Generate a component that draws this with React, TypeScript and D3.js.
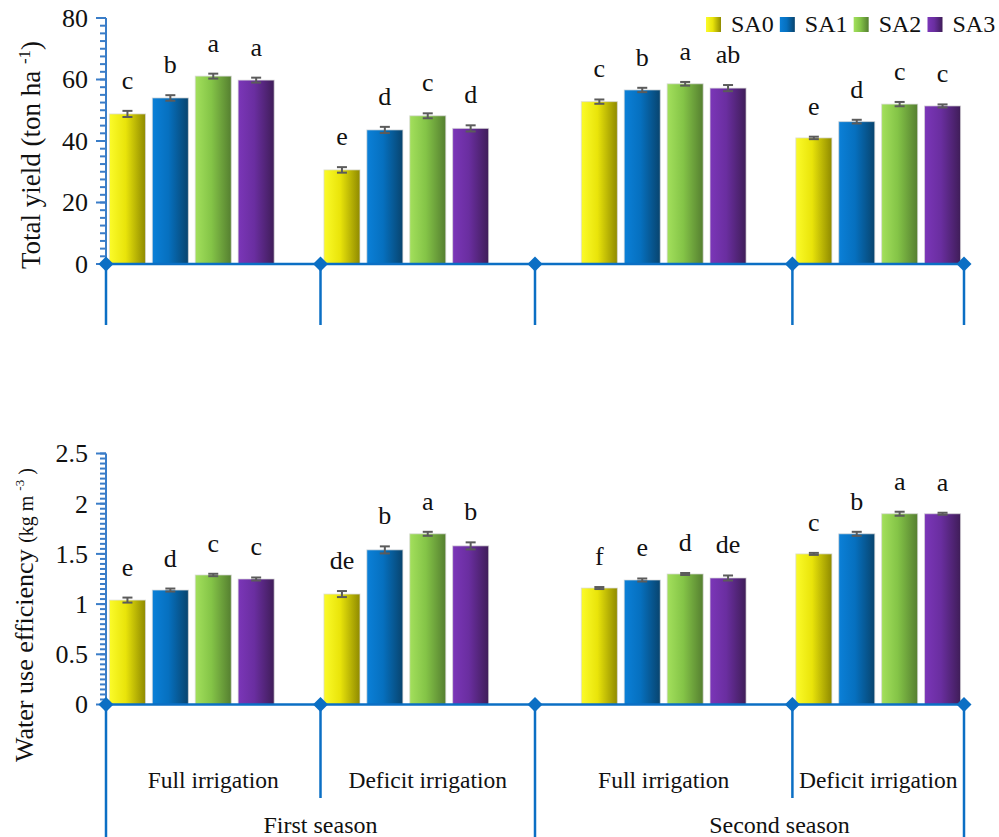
import React from "react";
import * as d3 from "d3";

// Series and category labels
const seriesNames = ["SA0", "SA1", "SA2", "SA3"];
const treatments = ["Full irrigation", "Deficit irrigation", "Full irrigation", "Deficit irrigation"];
const seasons = ["First season", "Second season"];

// Total yield (ton ha-1), one array per series, ordered by treatment group
const yieldSA0 = [48.8, 30.6, 52.8, 41.0];
const yieldSA1 = [54.0, 43.6, 56.6, 46.3];
const yieldSA2 = [61.1, 48.2, 58.6, 52.0];
const yieldSA3 = [59.8, 44.1, 57.2, 51.4];
const yieldErr = [
  [1.0, 0.9, 0.7, 0.4],
  [0.9, 1.0, 0.7, 0.6],
  [0.8, 0.8, 0.6, 0.7],
  [0.8, 1.0, 1.0, 0.5],
];
const yieldLetters = [
  ["c", "e", "c", "e"],
  ["b", "d", "b", "d"],
  ["a", "c", "a", "c"],
  ["a", "d", "ab", "c"],
];

// Water use efficiency (kg m-3)
const wueSA0 = [1.04, 1.1, 1.16, 1.5];
const wueSA1 = [1.14, 1.54, 1.24, 1.7];
const wueSA2 = [1.29, 1.7, 1.3, 1.9];
const wueSA3 = [1.25, 1.58, 1.26, 1.9];
const wueErr = [
  [0.025, 0.03, 0.01, 0.01],
  [0.015, 0.035, 0.015, 0.02],
  [0.012, 0.02, 0.01, 0.02],
  [0.015, 0.035, 0.025, 0.01],
];
const wueLetters = [
  ["e", "de", "f", "c"],
  ["d", "b", "e", "b"],
  ["c", "a", "d", "a"],
  ["c", "b", "de", "a"],
];

// Axis ticks
const yieldTicks = [0, 20, 40, 60, 80];
const wueTicks = [0, 0.5, 1, 1.5, 2, 2.5];

// Category slot layout: slots per treatment group and empty slots before bars
const groupSlots = [5, 5, 6, 4];
const groupLead = [0, 0, 1, 0];
const seasonGroups = [[0, 1], [2, 3]];
const seasonLabelShift = [0, 30];

const gradients = [
  ["#fbfb2a", "#e9e40a", "#8f8a00"],
  ["#0b80d8", "#0670bf", "#08446e"],
  ["#a3e05c", "#84c447", "#557f30"],
  ["#7b36b8", "#6a2ea0", "#3f1d58"],
];

const AXIS = "#0b6fc4";
const SERIF = "'Liberation Serif', 'Times New Roman', Times, serif";

const totalSlots = d3.sum(groupSlots);
const slotStart = groupSlots.map((_, i) => d3.sum(groupSlots.slice(0, i)));
const x = d3
  .scaleBand<number>()
  .domain(d3.range(totalSlots))
  .range([106, 964])
  .paddingInner(0.16)
  .paddingOuter(0.08);
const step = x.step();
const boundaryX = (slot: number) => x.range()[0] + slot * step;
const boundaries = [...slotStart, totalSlots];

type PanelProps = {
  y: d3.ScaleLinear<number, number>;
  series: number[][];
  errors: number[][];
  letters: string[][];
  ticks: number[];
  minorStep: number;
  fmt: (v: number) => string;
  lineEnds: number[];
  showLabels: boolean;
};

function Panel({ y, series, errors, letters, ticks, minorStep, fmt, lineEnds, showLabels }: PanelProps) {
  const [d0, d1] = y.domain();
  const minor = d3.range(d0, d1 + minorStep / 2, minorStep);
  const y0 = y(0);
  const axisX = x.range()[0];
  return (
    <g>
      {/* bars */}
      {series.map((vals, si) =>
        vals.map((v, gi) => {
          const slot = slotStart[gi] + groupLead[gi] + si;
          const bx = x(slot)!;
          const bw = x.bandwidth();
          const e = errors[si][gi];
          const cx = bx + bw / 2;
          return (
            <g key={`${si}-${gi}`}>
              <rect
                x={bx}
                y={y(v)}
                width={bw}
                height={y0 - y(v)}
                fill={`url(#grad${si})`}
                stroke="#d8d8d8"
                strokeOpacity={0.7}
                strokeWidth={1}
              />
              <g stroke="#5b5b5b" strokeWidth={2}>
                <line x1={cx} x2={cx} y1={y(v - e)} y2={y(v + e)} />
                <line x1={cx - 5} x2={cx + 5} y1={y(v - e)} y2={y(v - e)} />
                <line x1={cx - 5} x2={cx + 5} y1={y(v + e)} y2={y(v + e)} />
              </g>
              <text
                x={cx}
                y={y(v + e) - 22}
                textAnchor="middle"
                fontFamily={SERIF}
                fontSize={26}
                fill="#111"
              >
                {letters[si][gi]}
              </text>
            </g>
          );
        })
      )}
      {/* y axis */}
      <line x1={axisX} x2={axisX} y1={y(d0)} y2={y(d1)} stroke="#3a7dc8" strokeWidth={2} />
      {minor.map((t, i) => (
        <line key={`m${i}`} x1={axisX - 6} x2={axisX} y1={y(t)} y2={y(t)} stroke="#3a7dc8" strokeWidth={2} />
      ))}
      {ticks.map((t) => (
        <g key={`t${t}`}>
          <line x1={axisX - 10} x2={axisX} y1={y(t)} y2={y(t)} stroke="#3a7dc8" strokeWidth={2} />
          <text
            x={axisX - 18}
            y={y(t)}
            dy="0.34em"
            textAnchor="end"
            fontFamily={SERIF}
            fontSize={26}
            fill="#111"
          >
            {fmt(t)}
          </text>
        </g>
      ))}
      {/* category axis with group dividers */}
      {boundaries.map((s, i) => (
        <line
          key={`v${i}`}
          x1={boundaryX(s)}
          x2={boundaryX(s)}
          y1={y0}
          y2={lineEnds[i]}
          stroke={AXIS}
          strokeWidth={2.5}
        />
      ))}
      <line x1={boundaryX(0)} x2={boundaryX(totalSlots)} y1={y0} y2={y0} stroke={AXIS} strokeWidth={2.5} />
      {boundaries.map((s, i) => {
        const bx = boundaryX(s);
        return (
          <path
            key={`d${i}`}
            d={`M${bx},${y0 - 7.5}L${bx + 7.5},${y0}L${bx},${y0 + 7.5}L${bx - 7.5},${y0}Z`}
            fill={AXIS}
          />
        );
      })}
      {showLabels &&
        treatments.map((t, gi) => (
          <text
            key={`tr${gi}`}
            x={(boundaryX(boundaries[gi]) + boundaryX(boundaries[gi + 1])) / 2}
            y={y0 + 83}
            textAnchor="middle"
            fontFamily={SERIF}
            fontSize={23.5}
            fill="#111"
          >
            {t}
          </text>
        ))}
      {showLabels &&
        seasons.map((s, si) => {
          const g = seasonGroups[si];
          const left = boundaryX(boundaries[g[0]]);
          const right = boundaryX(boundaries[g[g.length - 1] + 1]);
          return (
            <text
              key={`s${si}`}
              x={(left + right) / 2 + seasonLabelShift[si]}
              y={y0 + 128}
              textAnchor="middle"
              fontFamily={SERIF}
              fontSize={24}
              fill="#111"
            >
              {s}
            </text>
          );
        })}
    </g>
  );
}

export default function App() {
  const yTop = d3.scaleLinear().domain([0, 80]).range([264, 18]);
  const yBot = d3.scaleLinear().domain([0, 2.5]).range([704.5, 453.5]);
  const yieldSeries = [yieldSA0, yieldSA1, yieldSA2, yieldSA3];
  const wueSeries = [wueSA0, wueSA1, wueSA2, wueSA3];
  const legendX = d3.scaleLinear().domain([0, 3]).range([706, 927.5]);

  return (
    <svg
      width={999}
      height={837}
      style={{ position: "absolute", left: 0, top: 0, background: "#fff" }}
    >
      <defs>
        {gradients.map((c, i) => (
          <linearGradient key={i} id={`grad${i}`} x1="0" x2="1" y1="0" y2="0">
            <stop offset="0" stopColor={c[0]} />
            <stop offset="0.45" stopColor={c[1]} />
            <stop offset="1" stopColor={c[2]} />
          </linearGradient>
        ))}
      </defs>
      <rect width={999} height={837} fill="#fff" />

      <Panel
        y={yTop}
        series={yieldSeries}
        errors={yieldErr}
        letters={yieldLetters}
        ticks={yieldTicks}
        minorStep={2.5}
        fmt={(v) => String(v)}
        lineEnds={[325, 325, 325, 325, 325]}
        showLabels={false}
      />
      <Panel
        y={yBot}
        series={wueSeries}
        errors={wueErr}
        letters={wueLetters}
        ticks={wueTicks}
        minorStep={0.05}
        fmt={(v) => String(v)}
        lineEnds={[837, 798, 837, 798, 837]}
        showLabels={true}
      />

      {/* y axis titles */}
      <text
        transform="translate(40,155) rotate(-90)"
        textAnchor="middle"
        fontFamily={SERIF}
        fontSize={27}
        fill="#111"
      >
        Total yield (ton ha <tspan fontSize={17} dy={-10}>-1</tspan>
        <tspan dy={10}>)</tspan>
      </text>
      <text
        transform="translate(33,615) rotate(-90)"
        textAnchor="middle"
        fontFamily={SERIF}
        fill="#111"
      >
        <tspan fontSize={26}>Water use efficiency </tspan>
        <tspan fontSize={20}>(kg m </tspan>
        <tspan fontSize={13} dy={-9}>-3</tspan>
        <tspan fontSize={20} dy={9}> )</tspan>
      </text>

      {/* legend */}
      {seriesNames.map((s, i) => (
        <g key={s}>
          <rect x={legendX(i)} y={17} width={15} height={15} fill={`url(#grad${i})`} />
          <text x={legendX(i) + 25} y={32} fontFamily={SERIF} fontSize={24} fill="#111">
            {s}
          </text>
        </g>
      ))}
    </svg>
  );
}
